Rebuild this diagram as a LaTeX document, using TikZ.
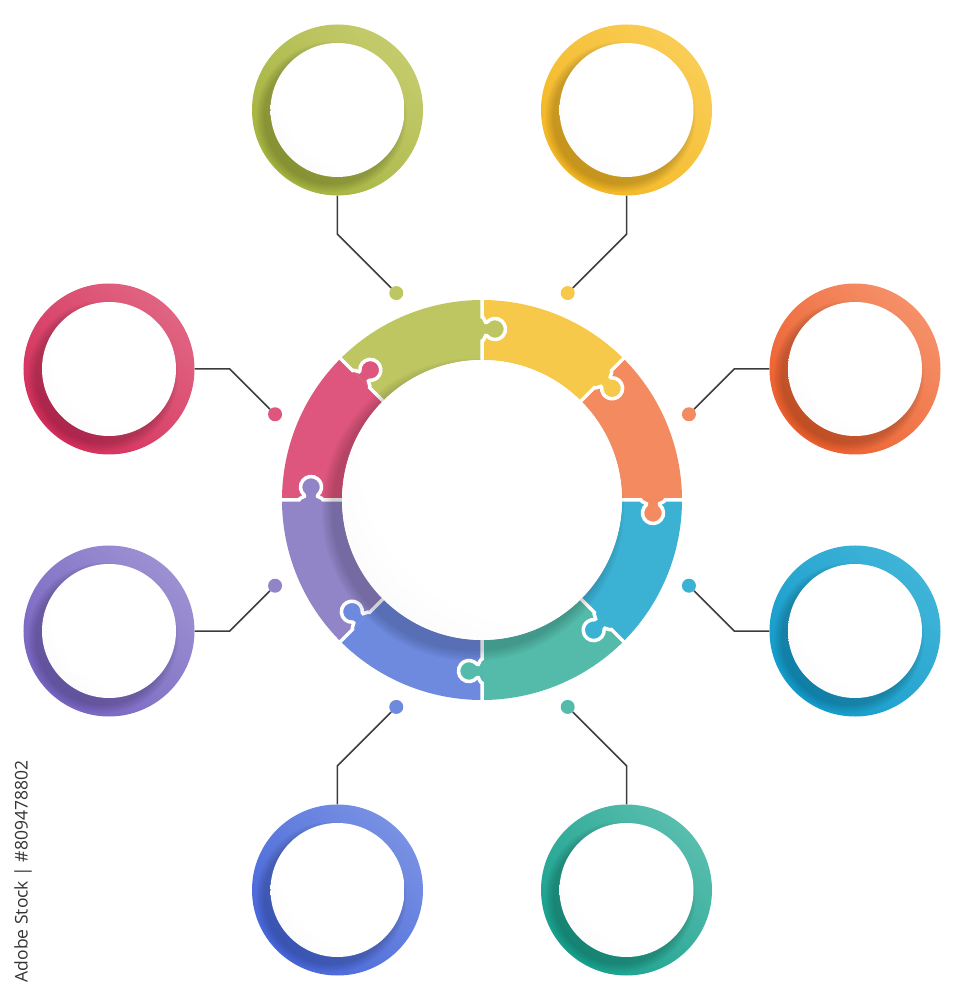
\documentclass[tikz,border=0pt]{standalone}
\usepackage{fontspec}
\newfontfamily\wmfont{Open Sans}
\usetikzlibrary{calc}
\definecolor{cOl}{HTML}{BEC662}
\definecolor{cYe}{HTML}{F7C94B}
\definecolor{cOr}{HTML}{F48A60}
\definecolor{cCy}{HTML}{3BB2D4}
\definecolor{cTe}{HTML}{54BBAA}
\definecolor{cBl}{HTML}{6E8ADE}
\definecolor{cPu}{HTML}{9185C8}
\definecolor{cPi}{HTML}{DE567D}
\definecolor{cOlL}{HTML}{C4CB6C}\definecolor{cOlD}{HTML}{A4B23E}
\definecolor{cYeL}{HTML}{F9CD55}\definecolor{cYeD}{HTML}{F3B623}
\definecolor{cOrL}{HTML}{F59069}\definecolor{cOrD}{HTML}{EC5E2C}
\definecolor{cCyL}{HTML}{40B4D8}\definecolor{cCyD}{HTML}{139BCB}
\definecolor{cTeL}{HTML}{58BDAD}\definecolor{cTeD}{HTML}{17A08D}
\definecolor{cBlL}{HTML}{7891E3}\definecolor{cBlD}{HTML}{4766D9}
\definecolor{cPuL}{HTML}{9C90D2}\definecolor{cPuD}{HTML}{7764C1}
\definecolor{cPiL}{HTML}{E06482}\definecolor{cPiD}{HTML}{D42E5B}
\definecolor{lineGray}{HTML}{3C3C3C}
\definecolor{wmGray}{HTML}{333333}
\pgfdeclareradialshading{whitedisc}{\pgfpoint{14bp}{14bp}}{rgb(0bp)=(1,1,1); rgb(30bp)=(1,1,1); rgb(52bp)=(0.95,0.95,0.95); rgb(66bp)=(0.89,0.89,0.89); rgb(80bp)=(0.87,0.87,0.87)}
\begin{document}
\begin{tikzpicture}[x=1pt,y=1pt,
  conn/.style={draw=lineGray, line width=1.5pt},
  dotnode/.style={circle, inner sep=0pt, minimum size=14pt},
  badge/.style 2 args={circle, inner sep=0pt, minimum size=171pt, top color=#1, bottom color=#2, shading angle=-45},
  disc/.style={circle, inner sep=0pt, shade, shading=whitedisc},
  gap/.style={draw=white, line width=3.5pt}
]
\useasboundingbox (-482,-500) rectangle (482,500);

% ring sectors
\foreach \a/\c in {135/cOl, 90/cYe, 45/cOr, 0/cCy, -45/cTe, -90/cBl, -135/cPu, 180/cPi}{
  \fill[\c] (\a:200) arc[start angle=\a, end angle=\a-45, radius=200pt] -- (\a-45:140) arc[start angle=\a-45, end angle=\a, radius=140pt] -- cycle;
}
% puzzle tabs and white joints
\foreach \t/\c in {90/cOl, 45/cYe, 0/cOr, -45/cCy, -90/cTe, -135/cBl, 180/cPu, 135/cPi}{
  \begin{scope}[rotate=\t-90]
    \fill[\c] (0,183) .. controls (2.5,183) and (3.03,175.45) .. (4.96,177.75) arc[start angle=140, end angle=-140, radius=10.5pt] .. controls (3.03,166.55) and (2.5,159) .. (0,159) -- cycle;
    \draw[gap] (0,203) -- (0,183) .. controls (2.5,183) and (3.03,175.45) .. (4.96,177.75) arc[start angle=140, end angle=-140, radius=10.5pt] .. controls (3.03,166.55) and (2.5,159) .. (0,159) -- (0,137);
  \end{scope}
}
% soft shadow of the hub
\foreach \r in {141,143,145,147,149,151}
  \fill[black, opacity=0.03] (-9,-10) circle[radius=\r pt];
\node[disc, minimum size=280pt] (hub) at (0,0) {};

% badges, dots and connectors
\foreach \i/\x/\y/\ex/\ey/\ang/\seg/\L/\D in {
  1/-144.5/390/-144.5/265.7/112.5/cOl/cOlL/cOlD,
  2/144.5/390/144.5/265.7/67.5/cYe/cYeL/cYeD,
  3/373/131/252.2/131/22.5/cOr/cOrL/cOrD,
  4/373/-131/252.2/-131/-22.5/cCy/cCyL/cCyD,
  5/144.5/-390/144.5/-265.7/-67.5/cTe/cTeL/cTeD,
  6/-144.5/-390/-144.5/-265.7/-112.5/cBl/cBlL/cBlD,
  7/-373/-131/-252.2/-131/-157.5/cPu/cPuL/cPuD,
  8/-373/131/-252.2/131/157.5/cPi/cPiL/cPiD}
{
  \node[badge={\L}{\D}] (b\i) at (\x,\y) {};
  \foreach \r in {67.5,69,70.5,72,73.5,75}
    \fill[black, opacity=0.03] ($(b\i)+(-6,-7)$) circle[radius=\r pt];
  \node[disc, minimum size=134pt] (w\i) at (b\i) {};
  \coordinate (e\i) at (\ex,\ey);
  \node[dotnode, fill=\seg] (d\i) at (\ang:224) {};
  \draw[conn] (b\i) -- (e\i) -- (d\i);
}

\node[rotate=90, inner sep=0pt, text=wmGray, font=\wmfont\fontsize{17.5}{21}\selectfont] (wm) at (-459,-371.5) {Adobe Stock | \#809478802};
\end{tikzpicture}
\end{document}
